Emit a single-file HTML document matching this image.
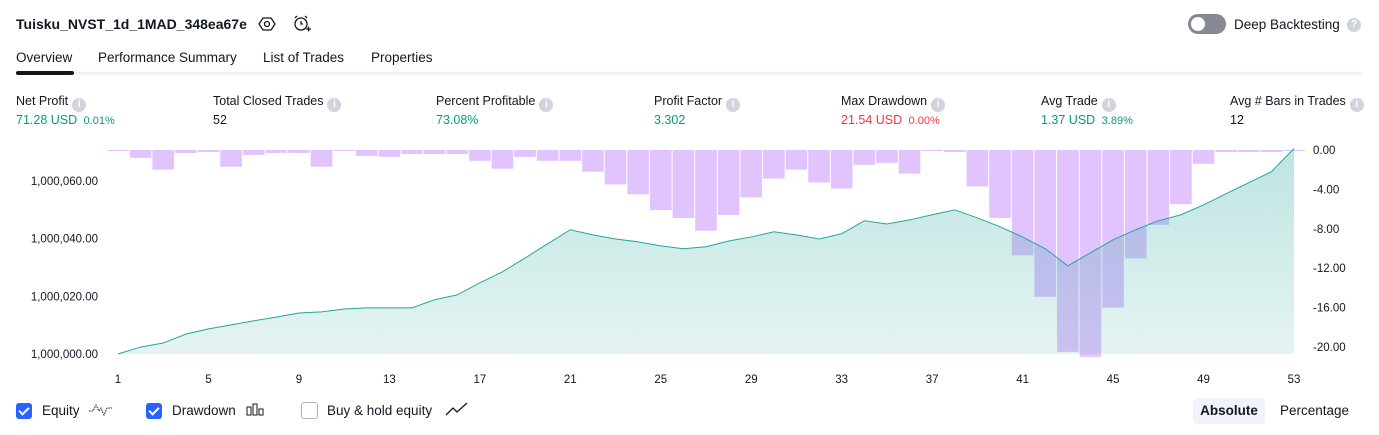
<!DOCTYPE html>
<html><head><meta charset="utf-8"><style>
body{margin:0;width:1379px;height:435px;background:#fff;font-family:"Liberation Sans",sans-serif;color:#131722;position:relative;overflow:hidden}
.a{position:absolute;white-space:nowrap}
.lbl{font-size:12.5px;color:#131722}
.val{font-size:12.5px}
.info{display:inline-block;width:14px;height:14px;border-radius:50%;background:#d1d4dc;color:#fff;font-size:10px;text-align:center;line-height:14px;font-weight:bold;vertical-align:-2px;margin-left:4px}
.g{color:#089981}.r{color:#f23645}
.cb{position:absolute;width:16px;height:16px;border-radius:3px;background:#2962ff;top:403px}
.cb:after{content:"";position:absolute;left:5px;top:2px;width:4px;height:8px;border:solid #fff;border-width:0 2px 2px 0;transform:rotate(45deg)}
.tab{font-size:13.5px;top:50px}
</style></head><body>
<div class="a" style="left:16px;top:16px;font-size:14px;font-weight:bold">Tuisku_NVST_1d_1MAD_348ea67e</div>
<svg class="a" style="left:258px;top:15px" width="18" height="18" viewBox="0 0 18 18"><polygon points="5,3 13,3 17,9 13,15 5,15 1,9" fill="none" stroke="#131722" stroke-width="1.3"/><circle cx="9" cy="9" r="2.5" fill="none" stroke="#131722" stroke-width="1.3"/></svg>
<svg class="a" style="left:292px;top:14px" width="20" height="20" viewBox="0 0 20 20"><circle cx="9" cy="10" r="6" fill="none" stroke="#131722" stroke-width="1.3"/><path d="M9 7v3h2M3 4l2-2M15 4l-2-2M14 15h5M16.5 12.5v5" stroke="#131722" stroke-width="1.3" fill="none"/></svg>
<div class="a" style="left:1188px;top:14px;width:38px;height:20px;border-radius:10px;background:#868993"><div style="position:absolute;left:3px;top:3px;width:14px;height:14px;border-radius:50%;background:#fff"></div></div>
<div class="a" style="left:1234px;top:17px;font-size:13.5px">Deep Backtesting</div>
<div class="a" style="left:1347px;top:18px;width:14px;height:14px;border-radius:50%;background:#d1d4dc;color:#fff;font-size:10px;text-align:center;line-height:14px;font-weight:bold">?</div>
<div class="a tab" style="left:16px">Overview</div>
<div class="a tab" style="left:98px">Performance Summary</div>
<div class="a tab" style="left:263px">List of Trades</div>
<div class="a tab" style="left:371px">Properties</div>
<div class="a" style="left:16px;top:72px;width:1346px;height:3px;background:#f0f3fa"></div>
<div class="a" style="left:16px;top:71px;width:58px;height:4px;border-radius:2px;background:#131722"></div>

<div class="a lbl" style="left:16px;top:94px">Net Profit<span class="info">i</span></div>
<div class="a val g" style="left:16px;top:113px">71.28 USD <span style="font-size:11px;margin-left:3px">0.01%</span></div>
<div class="a lbl" style="left:213px;top:94px">Total Closed Trades<span class="info">i</span></div>
<div class="a val" style="left:213px;top:113px">52</div>
<div class="a lbl" style="left:436px;top:94px">Percent Profitable<span class="info">i</span></div>
<div class="a val g" style="left:436px;top:113px">73.08%</div>
<div class="a lbl" style="left:654px;top:94px">Profit Factor<span class="info">i</span></div>
<div class="a val g" style="left:654px;top:113px">3.302</div>
<div class="a lbl" style="left:841px;top:94px">Max Drawdown<span class="info">i</span></div>
<div class="a val r" style="left:841px;top:113px">21.54 USD <span style="font-size:11px;margin-left:3px">0.00%</span></div>
<div class="a lbl" style="left:1041px;top:94px">Avg Trade<span class="info">i</span></div>
<div class="a val g" style="left:1041px;top:113px">1.37 USD <span style="font-size:11px;margin-left:3px">3.89%</span></div>
<div class="a lbl" style="left:1230px;top:94px">Avg # Bars in Trades<span class="info">i</span></div>
<div class="a val" style="left:1230px;top:113px">12</div>

<svg class="a" id="chart" style="left:0;top:0" width="1379" height="395"></svg>

<div class="cb" style="left:16px"></div>
<div class="a" style="left:42px;top:403px;font-size:13.5px">Equity</div>
<svg class="a" style="left:88px;top:402px" width="26" height="16"><path d="M1 9h4l3-6 3 6 2-3 3 7 3-7h5" fill="none" stroke="#131722" stroke-width="1" stroke-dasharray="1.5 1"/></svg>
<div class="cb" style="left:146px"></div>
<div class="a" style="left:172px;top:403px;font-size:13.5px">Drawdown</div>
<svg class="a" style="left:245px;top:402px" width="22" height="16"><rect x="2" y="5" width="4" height="8" fill="none" stroke="#131722"/><rect x="8" y="2" width="4" height="11" fill="none" stroke="#131722"/><rect x="14" y="7" width="4" height="6" fill="none" stroke="#131722"/></svg>
<div class="a" style="left:301px;top:402px;width:15px;height:15px;border:1px solid #b2b5be;border-radius:3px"></div>
<div class="a" style="left:327px;top:403px;font-size:13.5px">Buy &amp; hold equity</div>
<svg class="a" style="left:445px;top:402px" width="24" height="16"><path d="M1 13l7-7 4 4 10-9" fill="none" stroke="#131722" stroke-width="1.3"/></svg>
<div class="a" style="left:1193px;top:398px;width:72px;height:26px;border-radius:4px;background:#f0f3fa;font-size:13.5px;font-weight:bold;text-align:center;line-height:26px">Absolute</div>
<div class="a" style="left:1280px;top:403px;font-size:13.5px">Percentage</div>

<script>
const trades = Array.from({length:53},(_,i)=>i+1);
const equity = [0,2.4,3.8,6.9,8.7,10.1,11.5,12.8,14.2,14.6,15.6,16.0,16.0,16.0,18.8,20.5,24.7,28.5,33.3,38.2,43.1,41.3,39.9,38.9,37.5,36.5,37.2,39.2,40.6,42.4,41.3,39.9,41.7,46.2,45.1,46.5,48.3,50.0,47.2,44.1,40.6,36.5,30.6,35.1,39.6,43.1,46.2,48.3,51.7,55.6,59.4,63.2,71.28];
const drawdown = [-0.1,-0.8,-2.0,-0.3,-0.2,-1.7,-0.5,-0.3,-0.3,-1.7,-0.1,-0.6,-0.7,-0.4,-0.4,-0.4,-1.1,-1.9,-0.7,-1.1,-1.1,-2.2,-3.5,-4.5,-6.1,-6.9,-8.2,-6.6,-4.8,-2.9,-2.0,-3.3,-3.9,-1.5,-1.3,-2.4,-0.1,-0.2,-3.7,-6.9,-10.7,-14.9,-20.5,-21.0,-16.0,-11.0,-7.6,-5.5,-1.4,-0.2,-0.2,-0.2,-0.1];
const leftTicks = [0,20,40,60];
const leftTickLabels = ["1,000,000.00","1,000,020.00","1,000,040.00","1,000,060.00"];
const rightTicks = [0,-4,-8,-12,-16,-20];
const xTicks = [1,5,9,13,17,21,25,29,33,37,41,45,49,53];

const NS="http://www.w3.org/2000/svg", svg=document.getElementById('chart');
const x=t=>118+(t-1)*(1294-118)/52;
const yL=v=>354-v*(354-181)/60;
const yR=v=>150-v*197/20;
const step=(1294-118)/52;
function el(tag,attrs){const e=document.createElementNS(NS,tag);for(const k in attrs)e.setAttribute(k,attrs[k]);svg.appendChild(e);return e;}
const defs=el('defs',{});
defs.innerHTML='<linearGradient id="gf" x1="0" y1="0" x2="0" y2="1"><stop offset="0" stop-color="#26a69a" stop-opacity="0.3"/><stop offset="1" stop-color="#26a69a" stop-opacity="0.12"/></linearGradient>';
drawdown.forEach((d,i)=>{
  const y0=yR(0), y1=yR(d);
  const r=el('rect',{x:x(trades[i])-step/2+0.5,y:y0,width:step-1,height:Math.max(1,y1-y0),fill:'#e1c4fe'});
  
  
});
let p='M'+x(1)+' 354';
equity.forEach((v,i)=>p+=' L'+x(trades[i])+' '+yL(v));
p+=' L'+x(53)+' 354Z';
const area=el('path',{d:p,fill:'url(#gf)'});


const line=el('polyline',{points:equity.map((v,i)=>x(trades[i])+','+yL(v)).join(' '),fill:'none',stroke:'#26a69a','stroke-width':1});


leftTicks.forEach((v,i)=>{const t=el('text',{x:98,y:yL(v)+4,'text-anchor':'end','font-size':'11.5',fill:'#131722','font-family':'Liberation Sans'});t.textContent=leftTickLabels[i];

});
rightTicks.forEach(v=>{const t=el('text',{x:1313,y:yR(v)+4,'font-size':'11.5',fill:'#131722','font-family':'Liberation Sans'});t.textContent=v.toFixed(2);

});
xTicks.forEach(v=>{const t=el('text',{x:x(v),y:383,'text-anchor':'middle','font-size':'11.5',fill:'#131722','font-family':'Liberation Sans'});t.textContent=v;

});
</script>
</body></html>
